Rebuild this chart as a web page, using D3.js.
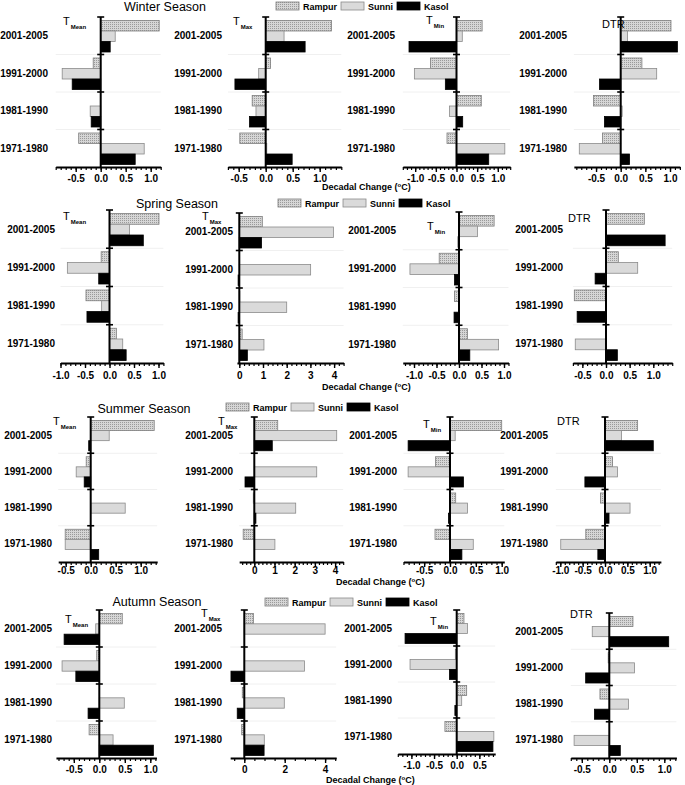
<!DOCTYPE html>
<html lang="en">
<head>
<meta charset="UTF-8">
<title>Decadal Change by Season</title>
<script src="https://cdn.jsdelivr.net/npm/d3@7/dist/d3.min.js"></script>
<style>
  body { margin: 0; background: #fff; font-family: 'Liberation Sans', Arial, sans-serif; }
  svg text { fill: #000; }
</style>
</head>
<body>
<svg id="chart" width="685" height="785"></svg>
<script>
// categories
const periods  = ["2001-2005", "1991-2000", "1981-1990", "1971-1980"];
const stations = ["Rampur", "Sunni", "Kasol"];
const seasons  = ["Winter Season", "Spring Season", "Summer Season", "Autumn Season"];
const metrics  = ["Mean", "Max", "Min", "DTR"];

// decadal change (°C), one row per period, [Rampur, Sunni, Kasol]
const winterMean = [[1.17, 0.29, 0.19], [-0.15, -0.77, -0.57], [0, -0.21, -0.19], [-0.44, 0.87, 0.69]];
const winterMax  = [[1.22, 0.34, 0.73], [0.09, -0.13, -0.57], [-0.25, -0.18, -0.30], [-0.48, 0.02, 0.49]];
const winterMin  = [[0.62, 0.14, -1.15], [-0.63, -1.02, -0.27], [0.60, -0.17, 0.15], [-0.23, 1.17, 0.78]];
const winterDTR  = [[1.02, 0.14, 1.15], [0.43, 0.73, -0.43], [-0.55, 0.03, -0.33], [-0.37, -0.84, 0.18]];

const springMean = [[1.01, 0.41, 0.69], [-0.17, -0.86, -0.22], [-0.48, -0.16, -0.46], [0.14, 0.27, 0.34]];
const springMax  = [[0.97, 3.97, 0.94], [0, 3.01, -0.05], [0.02, 2.0, -0.05], [0.12, 1.04, 0.34]];
const springMin  = [[0.78, 0.41, -0.02], [-0.44, -1.09, -0.10], [-0.10, 0, -0.11], [0.19, 0.88, 0.24]];
const springDTR  = [[0.81, 0.01, 1.25], [0.26, 0.67, -0.23], [-0.67, 0, -0.61], [0, -0.65, 0.24]];

const summerMean = [[1.27, 0.37, -0.04], [-0.09, -0.29, -0.13], [0, 0.69, 0], [-0.51, -0.51, 0.16]];
const summerMax  = [[1.16, 4.08, 0.89], [0, 3.09, -0.46], [-0.05, 2.05, 0.08], [-0.55, 1.02, 0]];
const summerMin  = [[1.00, 0.10, -0.81], [-0.28, -0.81, 0.26], [0.11, 0.34, -0.03], [-0.29, 0.45, 0.23]];
const summerDTR  = [[0.73, 0.37, 1.08], [0.17, 0.28, -0.45], [-0.10, 0.56, 0.09], [-0.43, -0.99, -0.16]];

const autumnMean = [[0.45, -0.07, -0.69], [-0.05, -0.73, -0.46], [0, 0.49, -0.22], [-0.20, 0.27, 1.06]];
const autumnMax  = [[0.45, 4.0, 0], [0, 2.98, -0.66], [-0.10, 1.98, -0.35], [-0.13, 0.99, 0.98]];
const autumnMin  = [[0.16, 0.24, -1.14], [-0.03, -1.03, -0.16], [0.22, 0.11, -0.04], [-0.26, 0.82, 0.80]];
const autumnDTR  = [[0.43, -0.31, 1.08], [-0.02, 0.46, -0.43], [-0.17, 0.35, -0.27], [0, -0.64, 0.20]];

const seasonValues = [
  [winterMean, winterMax, winterMin, winterDTR],
  [springMean, springMax, springMin, springDTR],
  [summerMean, summerMax, summerMin, summerDTR],
  [autumnMean, autumnMax, autumnMin, autumnDTR]
];

// layout: zero = pixel of 0 on x, ppu = pixels per unit
const rows = [
  { top: 17, bottom: 167, tickY: 15, title: [165, 11], legend: [276, 2], xlabel: [322, 190], panels: [
    { zero: 100.7, ppu: 50,   dom: [-0.9, 1.2],  major: 0.5, minor: 0.1, cat: 48,  lab: [63, 25] },
    { zero: 265.7, ppu: 54,   dom: [-0.7, 1.4],  major: 0.5, minor: 0.1, cat: 222, lab: [233, 25] },
    { zero: 456.5, ppu: 41.3, dom: [-1.3, 1.3],  major: 0.5, minor: 0.1, cat: 395, lab: [426, 24] },
    { zero: 620.7, ppu: 49.3, dom: [-0.95, 1.2], major: 0.5, minor: 0.1, cat: 567, lab: [602, 28] }
  ]},
  { top: 210, bottom: 363, tickY: 16, title: [177, 208], legend: [278, 199], xlabel: [322, 390], panels: [
    { zero: 109.5, ppu: 49,   dom: [-1.0, 1.1],  major: 0.5, minor: 0.1, cat: 55,  lab: [63, 220] },
    { zero: 239.3, ppu: 23.7, dom: [-0.1, 4.4],  major: 1,   minor: 0.2, cat: 233, lab: [202, 220], top: 213 },
    { zero: 459,   ppu: 45,   dom: [-1.25, 1.1], major: 0.5, minor: 0.1, cat: 396, lab: [427, 230], top: 212 },
    { zero: 606,   ppu: 47.3, dom: [-0.7, 1.4],  major: 0.5, minor: 0.1, cat: 563, lab: [568, 222] }
  ]},
  { top: 417, bottom: 562, tickY: 12, title: [144, 413], legend: [226, 403], xlabel: [336, 585], panels: [
    { zero: 90.7,  ppu: 50,   dom: [-0.65, 1.33], major: 0.5, minor: 0.1, cat: 52,  lab: [53, 425] },
    { zero: 254.3, ppu: 20.2, dom: [-0.75, 4.4],  major: 1,   minor: 0.2, cat: 233, lab: [218, 425] },
    { zero: 450,   ppu: 51.7, dom: [-0.9, 1.05],  major: 0.5, minor: 0.1, cat: 397, lab: [423, 428] },
    { zero: 605,   ppu: 44.7, dom: [-1.1, 1.25],  major: 0.5, minor: 0.1, cat: 548, lab: [557, 425] }
  ]},
  { top: 610, bottom: 758, tickY: 15, title: [157, 606], legend: [265, 598], xlabel: [326, 783], panels: [
    { zero: 99.3,  ppu: 51,   dom: [-0.85, 1.12], major: 0.5, minor: 0.1, cat: 52,  lab: [65, 623] },
    { zero: 244.3, ppu: 20.2, dom: [-0.7, 4.55],  major: 2,   minor: 0.5, cat: 222, lab: [201, 617] },
    { zero: 456.7, ppu: 45.3, dom: [-1.3, 0.85],  major: 0.5, minor: 0.1, cat: 392, lab: [430, 625], bottom: 754 },
    { zero: 609.3, ppu: 55,   dom: [-0.7, 1.22],  major: 0.5, minor: 0.1, cat: 563, lab: [570, 618], top: 613 }
  ]}
];

const svg = d3.select('#chart');

// dotted fill for Rampur
const pat = svg.append('defs').append('pattern')
  .attr('id', 'dots').attr('width', 2).attr('height', 2)
  .attr('patternUnits', 'userSpaceOnUse');
pat.append('rect').attr('width', 2).attr('height', 2).attr('fill', '#d6d6d6');
pat.append('rect').attr('width', 1).attr('height', 1).attr('fill', '#9a9a9a');

const fills   = { Rampur: 'url(#dots)', Sunni: '#dadada', Kasol: '#000' };
const strokes = { Rampur: '#7d7d7d', Sunni: '#8a8a8a', Kasol: '#000' };

function ticks(d0, d1, step) {
  const a = Math.ceil(d0 / step - 1e-9), b = Math.floor(d1 / step + 1e-9);
  return d3.range(a, b + 1).map(i => Math.round(i * step * 100) / 100);
}

rows.forEach((row, r) => {
  // season title
  svg.append('text').attr('x', row.title[0]).attr('y', row.title[1])
    .attr('text-anchor', 'middle').style('font-size', '12.5px')
    .text(seasons[r]);

  // legend
  let lx = row.legend[0];
  stations.forEach(s => {
    svg.append('rect').attr('x', lx).attr('y', row.legend[1]).attr('width', 23).attr('height', 8)
      .attr('fill', fills[s]).attr('stroke', strokes[s]).attr('stroke-width', 0.8);
    const t = svg.append('text').attr('x', lx + 27).attr('y', row.legend[1] + 7.5)
      .style('font-size', '9px').style('font-weight', 'bold').text(s);
    lx += 27 + t.node().getComputedTextLength() + 4;
  });

  // axis title
  const xl = svg.append('text').attr('x', row.xlabel[0]).attr('y', row.xlabel[1])
    .style('font-size', '9px').style('font-weight', 'bold');
  xl.append('tspan').text('Decadal Change (');
  xl.append('tspan').attr('dy', -3).style('font-size', '6px').text('o');
  xl.append('tspan').attr('dy', 3).text('C)');

  row.panels.forEach((p, m) => {
    const values = seasonValues[r][m];
    const top = p.top ?? row.top, bottom = p.bottom ?? row.bottom;
    const x = d3.scaleLinear().domain(p.dom)
      .range([p.zero + p.dom[0] * p.ppu, p.zero + p.dom[1] * p.ppu]);
    const y = d3.scaleBand().domain(periods).range([top, bottom]);
    const yi = d3.scaleBand().domain(stations).range([3.5, y.bandwidth() - 2.5]);
    const g = svg.append('g');

    // faint row lines
    g.selectAll('line.grid').data(periods.slice(1)).join('line')
      .attr('x1', x.range()[0]).attr('x2', x.range()[1])
      .attr('y1', d => y(d)).attr('y2', d => y(d))
      .attr('stroke', '#f0f0f0').attr('stroke-width', 1);

    // bars
    periods.forEach((per, i) => {
      g.selectAll(null).data(stations.map((s, j) => ({ s, v: values[i][j] }))).join('rect')
        .attr('x', d => x(Math.min(0, d.v)))
        .attr('y', d => y(per) + yi(d.s))
        .attr('width', d => Math.abs(x(d.v) - x(0)))
        .attr('height', yi.bandwidth())
        .attr('fill', d => fills[d.s])
        .attr('stroke', d => strokes[d.s])
        .attr('stroke-width', d => d.v === 0 ? 0 : 0.8);
    });

    // x axis: minor then major
    const fmt = p.major >= 1 ? d3.format('d') : d3.format('.1f');
    g.append('g').attr('transform', `translate(0,${bottom})`)
      .call(d3.axisBottom(x).tickValues(ticks(p.dom[0], p.dom[1], p.minor)).tickSize(3).tickFormat(''))
      .call(a => a.select('.domain').remove())
      .call(a => a.selectAll('line').attr('stroke-width', 1.2));
    g.append('g').attr('transform', `translate(0,${bottom})`)
      .call(d3.axisBottom(x).tickValues(ticks(p.dom[0], p.dom[1], p.major)).tickSize(5).tickSizeOuter(0)
        .tickFormat(v => fmt(v).replace('\u2212', '-')))
      .call(a => a.select('.domain').attr('stroke-width', 2))
      .call(a => a.selectAll('line').attr('stroke-width', 1.4))
      .call(a => a.selectAll('text').attr('dy', null).attr('y', row.tickY)
        .style('font-size', '10px').style('font-weight', 'bold')
        .style('font-family', "'Liberation Sans', Arial, sans-serif"));

    // y axis at zero
    g.append('line').attr('x1', x(0)).attr('x2', x(0)).attr('y1', top).attr('y2', bottom)
      .attr('stroke', '#000').attr('stroke-width', 2);
    g.selectAll('line.sep').data(periods).join('line')
      .attr('x1', x(0) - 3.5).attr('x2', x(0) + 3.5)
      .attr('y1', d => y(d)).attr('y2', d => y(d))
      .attr('stroke', '#000').attr('stroke-width', 1.6);

    // period labels
    g.selectAll('text.cat').data(periods).join('text')
      .attr('x', p.cat).attr('y', d => y(d) + y.bandwidth() / 2 + 3.5)
      .attr('text-anchor', 'end').style('font-size', '10px').style('font-weight', 'bold')
      .text(d => d);

    // panel label
    const lab = g.append('text').attr('x', p.lab[0]).attr('y', p.lab[1]).style('font-size', '11px');
    if (metrics[m] === 'DTR') {
      lab.text('DTR');
    } else {
      lab.append('tspan').text('T');
      lab.append('tspan').attr('dy', 4).attr('dx', 1).style('font-size', '6px').style('font-weight', 'bold').text(metrics[m]);
    }
  });
});
</script>
</body>
</html>
